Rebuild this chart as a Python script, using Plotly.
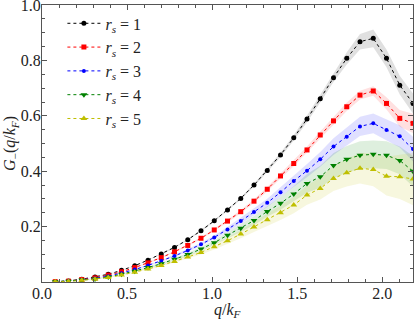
import numpy as np
import plotly.graph_objects as go

# q/k_F grid (28 points)
n_idx = list(range(1, 29))
dq = 0.0779
q = [round(n * dq, 4) for n in n_idx]

rs_labels = ["1", "2", "3", "4", "5"]

g_rs1 = [0.001, 0.004, 0.010, 0.018, 0.028, 0.042, 0.059, 0.079, 0.101, 0.125,
         0.153, 0.185, 0.221, 0.260, 0.302, 0.350, 0.403, 0.459, 0.521, 0.589,
         0.662, 0.738, 0.808, 0.868, 0.880, 0.808, 0.711, 0.645]
g_rs2 = [0.001, 0.003, 0.009, 0.015, 0.025, 0.037, 0.052, 0.069, 0.088, 0.109,
         0.132, 0.158, 0.188, 0.220, 0.254, 0.292, 0.335, 0.383, 0.428, 0.477,
         0.531, 0.582, 0.633, 0.675, 0.690, 0.645, 0.591, 0.573]
g_rs3 = [0.001, 0.003, 0.008, 0.013, 0.021, 0.032, 0.045, 0.060, 0.076, 0.094,
         0.114, 0.136, 0.161, 0.190, 0.220, 0.253, 0.286, 0.324, 0.365, 0.402,
         0.443, 0.489, 0.525, 0.562, 0.573, 0.549, 0.526, 0.480]
g_rs4 = [0.001, 0.003, 0.007, 0.011, 0.018, 0.028, 0.039, 0.052, 0.066, 0.082,
         0.099, 0.119, 0.142, 0.169, 0.194, 0.222, 0.255, 0.284, 0.318, 0.356,
         0.380, 0.421, 0.443, 0.458, 0.461, 0.458, 0.439, 0.400]
g_rs5 = [0.001, 0.002, 0.006, 0.010, 0.016, 0.025, 0.035, 0.047, 0.060, 0.074,
         0.090, 0.107, 0.127, 0.149, 0.173, 0.199, 0.225, 0.250, 0.278, 0.314,
         0.338, 0.374, 0.395, 0.411, 0.406, 0.382, 0.380, 0.372]

# uncertainty half-widths (shaded bands)
e_rs1 = [0.0, 0.0, 0.0, 0.0, 0.0, 0.001, 0.001, 0.001, 0.002, 0.002,
         0.002, 0.003, 0.003, 0.004, 0.004, 0.005, 0.006, 0.008, 0.010, 0.012,
         0.014, 0.016, 0.022, 0.028, 0.032, 0.032, 0.034, 0.036]
e_rs2 = [0.0, 0.0, 0.0, 0.0, 0.001, 0.001, 0.001, 0.002, 0.002, 0.003,
         0.003, 0.004, 0.004, 0.005, 0.006, 0.007, 0.008, 0.009, 0.010, 0.012,
         0.013, 0.014, 0.015, 0.016, 0.017, 0.022, 0.030, 0.035]
e_rs3 = [0.0, 0.0, 0.0, 0.001, 0.001, 0.001, 0.002, 0.002, 0.003, 0.004,
         0.005, 0.006, 0.007, 0.009, 0.011, 0.013, 0.015, 0.018, 0.021, 0.024,
         0.027, 0.030, 0.033, 0.035, 0.036, 0.037, 0.040, 0.045]
e_rs4 = [0.0, 0.0, 0.0, 0.001, 0.001, 0.002, 0.002, 0.003, 0.004, 0.005,
         0.006, 0.007, 0.009, 0.011, 0.013, 0.016, 0.019, 0.023, 0.028, 0.034,
         0.040, 0.045, 0.048, 0.050, 0.050, 0.050, 0.050, 0.055]
e_rs5 = [0.0, 0.0, 0.0, 0.001, 0.001, 0.002, 0.002, 0.003, 0.004, 0.005,
         0.006, 0.008, 0.010, 0.012, 0.015, 0.018, 0.022, 0.026, 0.030, 0.035,
         0.040, 0.045, 0.050, 0.055, 0.060, 0.070, 0.080, 0.095]

series = [g_rs1, g_rs2, g_rs3, g_rs4, g_rs5]
errors = [e_rs1, e_rs2, e_rs3, e_rs4, e_rs5]
colors = ["#000000", "#ff0000", "#0000ff", "#008000", "#bfbf00"]
fills = ["rgba(0,0,0,0.12)", "rgba(255,0,0,0.12)", "rgba(0,0,255,0.12)",
         "rgba(0,128,0,0.13)", "rgba(191,191,0,0.13)"]
symbols = ["circle", "square", "circle", "triangle-down", "triangle-up"]
msizes = [5, 5, 4, 6, 6]

FONT = "'Liberation Serif', 'DejaVu Serif', serif"
fig = go.Figure()

qa = np.array(q)
for g, e, fc in zip(series, errors, fills):
    ga, ea = np.array(g), np.array(e)
    fig.add_trace(go.Scatter(
        x=np.concatenate([qa, qa[::-1]]),
        y=np.concatenate([ga + ea, (ga - ea)[::-1]]),
        fill="toself", fillcolor=fc, line=dict(width=0),
        mode="lines", showlegend=False, hoverinfo="skip"))

for lab, g, c, s, ms in zip(rs_labels, series, colors, symbols, msizes):
    fig.add_trace(go.Scatter(
        x=q, y=g, mode="lines+markers",
        name="<i>r</i><sub><i>s</i></sub> = " + lab,
        line=dict(color=c, width=1, dash="dot"),
        marker=dict(symbol=s, size=ms, color=c, line=dict(width=0))))

axis_common = dict(
    showgrid=False, zeroline=False, showline=True, linecolor="#555555",
    linewidth=1, mirror="allticks", ticks="inside", ticklen=5,
    tickcolor="#555555", tickfont=dict(family=FONT, size=16, color="#222222"),
    ticklabeloverflow="allow", automargin=False,
)

fig.update_xaxes(range=[0, 28 * dq], tickvals=[0, 0.5, 1.0, 1.5, 2.0],
                 ticktext=["0.0", "0.5", "1.0", "1.5", "2.0"],
                 minor=dict(ticks="inside", dtick=0.1, ticklen=3, tickcolor="#555555"),
                 ticklabelstandoff=-3,
                 **axis_common)
fig.update_yaxes(range=[0, 1.0005], tickvals=[0.2, 0.4, 0.6, 0.8, 1.0],
                 ticktext=["0.2", "0.4", "0.6", "0.8", "1.0"],
                 minor=dict(ticks="inside", dtick=0.05, ticklen=3, tickcolor="#555555"),
                 ticklabelstandoff=-3,
                 title=dict(text="<i>G</i><sub>−</sub>(<i>q</i>/<i>k</i><sub><i>F</i></sub>)",
                            font=dict(family=FONT, size=16), standoff=0),
                 **axis_common)

fig.add_annotation(text="<i>q</i>/<i>k</i><sub><i>F</i></sub>",
                   xref="paper", yref="paper", x=0.5, y=-0.104,
                   xanchor="center", yanchor="middle", showarrow=False,
                   font=dict(family=FONT, size=16, color="#222222"))

fig.update_layout(
    width=415, height=321,
    margin=dict(l=42, r=2, t=5, b=39),
    paper_bgcolor="white", plot_bgcolor="white",
    font=dict(family=FONT, color="#222222"),
    legend=dict(x=0.055, y=0.995, xanchor="left", yanchor="top",
                bgcolor="rgba(0,0,0,0)", font=dict(family=FONT, size=16),
                tracegroupgap=0, itemwidth=33),
    showlegend=True,
)

fig.write_html("out.html", config={"displayModeBar": False},
               post_script="document.body.style.margin='0px';")
